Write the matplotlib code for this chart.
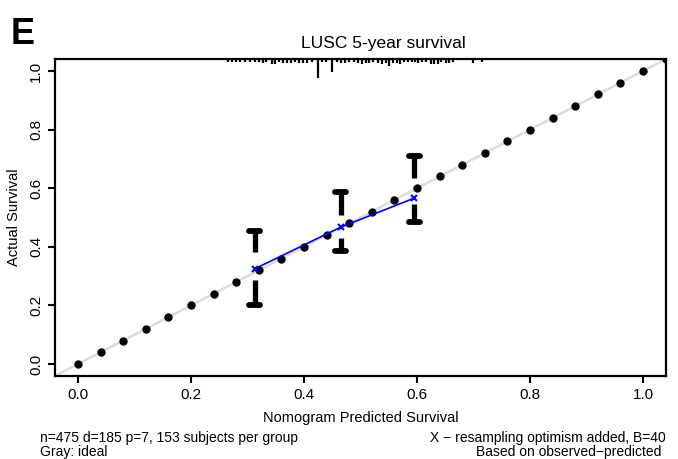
import numpy as np
import matplotlib
matplotlib.use('Agg')
from matplotlib import pyplot as plt
import matplotlib.transforms as mtransforms

plt.rcParams['font.family'] = ['Liberation Sans', 'DejaVu Sans']

# ideal line reference dots
ideal_pts = [0.00, 0.04, 0.08, 0.12, 0.16, 0.20, 0.24, 0.28, 0.32, 0.36, 0.40, 0.44, 0.48,
             0.52, 0.56, 0.60, 0.64, 0.68, 0.72, 0.76, 0.80, 0.84, 0.88, 0.92, 0.96, 1.00, 1.04]

# calibration groups
pred = [0.313, 0.465, 0.595]
obs_upper = [0.454, 0.587, 0.710]
obs_lower = [0.201, 0.386, 0.485]
gap_hi = [0.382, 0.509, 0.635]
gap_lo = [0.287, 0.430, 0.546]
corrected = [0.325, 0.467, 0.566]

# rug of predicted values at the top (value, spike length in px)
rug_x = [0.265, 0.273, 0.280, 0.287, 0.296, 0.304, 0.313, 0.320, 0.327, 0.333, 0.343, 0.349,
         0.356, 0.363, 0.370, 0.377, 0.384, 0.391, 0.398, 0.405, 0.414, 0.425, 0.432, 0.439,
         0.450, 0.458, 0.465, 0.473, 0.480, 0.488, 0.496, 0.503, 0.510, 0.515, 0.522, 0.531,
         0.538, 0.545, 0.550, 0.558, 0.565, 0.570, 0.577, 0.584, 0.591, 0.596, 0.602, 0.609,
         0.616, 0.625, 0.630, 0.637, 0.642, 0.651, 0.657, 0.664, 0.699, 0.715]
rug_len = [1, 1, 1, 1, 1, 1, 1, 1, 2, 1, 3, 3,
           1, 2, 2, 2, 1, 2, 2, 2, 1, 17, 1, 1,
           11, 1, 2, 2, 1, 1, 2, 3, 2, 2, 1, 2,
           3, 2, 5, 2, 2, 3, 1, 1, 1, 1, 2, 1,
           1, 3, 3, 3, 1, 2, 2, 1, 2, 1]

ticks = [0.0, 0.2, 0.4, 0.6, 0.8, 1.0]
tick_labels = ['0.0', '0.2', '0.4', '0.6', '0.8', '1.0']

fig = plt.figure(figsize=(6.78, 4.59), dpi=100)
ax = fig.add_axes([0.0817, 0.1815, 0.9, 0.6893])
ax.set_xlim(-0.04, 1.04)
ax.set_ylim(-0.04, 1.04)

# ideal line
ax.plot([-0.04, 1.04], [-0.04, 1.04], color='#dcdcdc', lw=1.8, zorder=1)
ax.plot(ideal_pts, ideal_pts, 'o', color='black', ms=5, zorder=3, clip_on=True)

# error bars
for i in range(len(pred)):
    x = pred[i]
    ax.plot([x, x], [gap_hi[i], obs_upper[i]], color='black', lw=3.8, solid_capstyle='butt', zorder=2)
    ax.plot([x, x], [obs_lower[i], gap_lo[i]], color='black', lw=3.8, solid_capstyle='butt', zorder=2)
    for yv in (obs_upper[i], obs_lower[i]):
        ax.plot([x - 0.010, x + 0.010], [yv, yv], color='black', lw=4.2, solid_capstyle='round', zorder=2)

# bias-corrected estimates
ax.plot(pred, corrected, color='blue', lw=1.2, zorder=4)
ax.plot(pred, corrected, 'x', color='blue', ms=5, mew=1.5, zorder=5)

# rug at the top
trans = mtransforms.blended_transform_factory(ax.transData, ax.transAxes)
axh = ax.get_position().height * fig.get_figheight() * fig.dpi
rl = (np.array(rug_len) + 1.5) / axh
ax.vlines(rug_x, 1 - rl, 1, transform=trans, color='black', lw=1.6, zorder=6)

ax.set_xticks(ticks)
ax.set_xticklabels(tick_labels)
ax.set_yticks(ticks)
ax.set_yticklabels(tick_labels, rotation=90, va='center')
ax.tick_params(direction='out', length=5, width=1.5, labelsize=11, pad=4)
for s in ax.spines.values():
    s.set_linewidth(1.6)

ax.set_xlabel('Nomogram Predicted Survival', fontsize=10.5, labelpad=6)
ax.set_ylabel('Actual Survival', fontsize=10.5, labelpad=6)

fig.text(0.566, 0.895, 'LUSC 5-year survival', fontsize=12.5, ha='center', va='baseline')
fig.text(0.015, 0.905, 'E', fontsize=26, fontweight='bold', ha='left', va='baseline')

fig.text(0.059, 0.036, 'n=475 d=185 p=7, 153 subjects per group', fontsize=10, ha='left', va='baseline')
fig.text(0.059, 0.006, 'Gray: ideal', fontsize=10, ha='left', va='baseline')
fig.text(0.982, 0.036, 'X \u2212 resampling optimism added, B=40', fontsize=10, ha='right', va='baseline')
fig.text(0.976, 0.006, 'Based on observed\u2212predicted', fontsize=10, ha='right', va='baseline')

fig.savefig('out.png', dpi=100)
